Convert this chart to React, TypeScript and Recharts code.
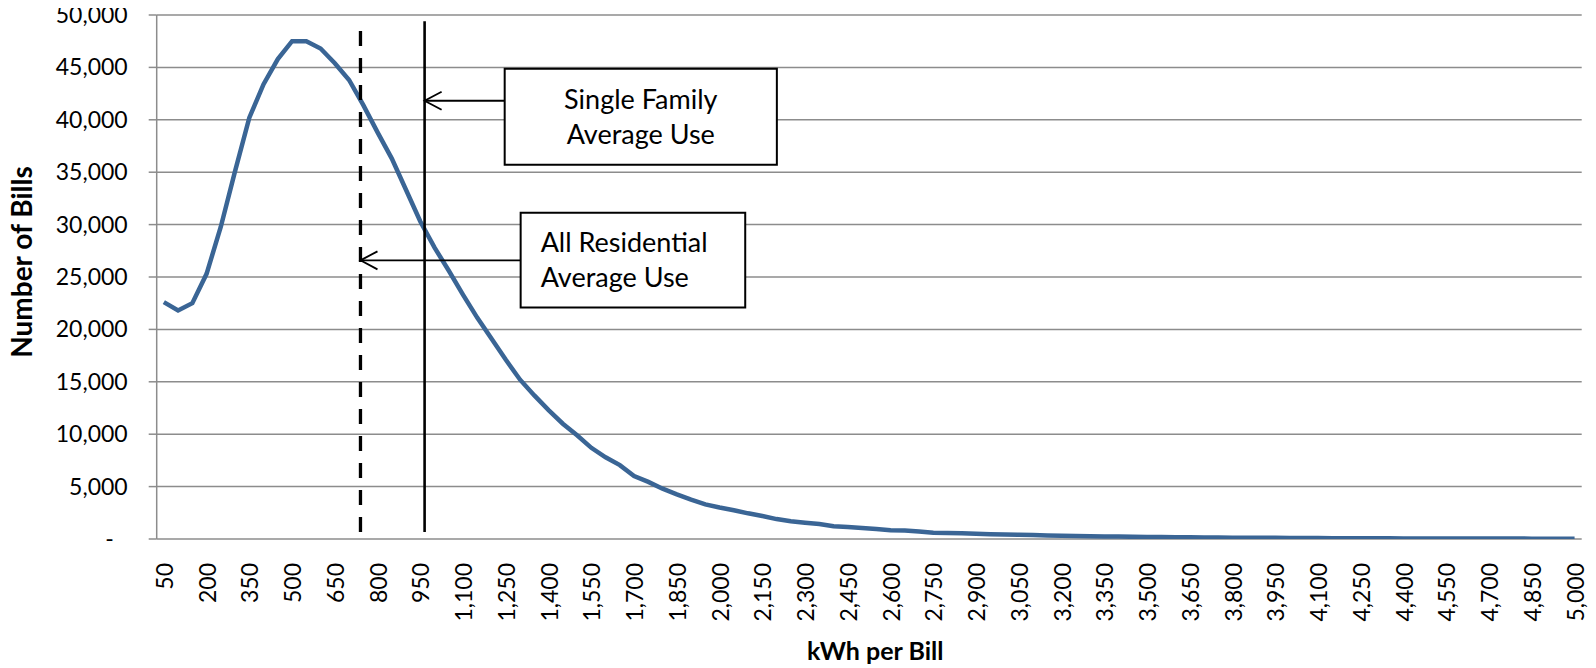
import React from "react";
import {
  LineChart,
  Line,
  XAxis,
  YAxis,
  CartesianGrid,
  ReferenceLine,
  ReferenceArea,
} from "recharts";

// ---- data ----
const kwhBins: number[] = [
  50, 100, 150, 200, 250, 300, 350, 400, 450, 500,
  550, 600, 650, 700, 750, 800, 850, 900, 950, 1000,
  1050, 1100, 1150, 1200, 1250, 1300, 1350, 1400, 1450, 1500,
  1550, 1600, 1650, 1700, 1750, 1800, 1850, 1900, 1950, 2000,
  2050, 2100, 2150, 2200, 2250, 2300, 2350, 2400, 2450, 2500,
  2550, 2600, 2650, 2700, 2750, 2800, 2850, 2900, 2950, 3000,
  3050, 3100, 3150, 3200, 3250, 3300, 3350, 3400, 3450, 3500,
  3550, 3600, 3650, 3700, 3750, 3800, 3850, 3900, 3950, 4000,
  4050, 4100, 4150, 4200, 4250, 4300, 4350, 4400, 4450, 4500,
  4550, 4600, 4650, 4700, 4750, 4800, 4850, 4900, 4950, 5000,
];

const billCounts: number[] = [
  22600, 21800, 22500, 25300, 29800, 35100, 40200, 43400, 45800, 47500,
  47500, 46800, 45400, 43800, 41400, 38800, 36300, 33300, 30300, 27800,
  25600, 23300, 21100, 19100, 17100, 15200, 13700, 12300, 11000, 9900,
  8700, 7800, 7050, 6000, 5450, 4800, 4250, 3750, 3300, 3000,
  2750, 2450, 2200, 1900, 1700, 1550, 1430, 1220, 1150, 1060,
  960, 840, 800, 710, 600, 570, 540, 510, 460, 430,
  400, 370, 340, 310, 290, 260, 250, 230, 210, 200,
  190, 170, 160, 150, 140, 130, 120, 115, 120, 105,
  95, 85, 80, 75, 70, 68, 62, 58, 55, 52,
  50, 48, 45, 42, 40, 38, 35, 33, 30, 30,
];

const yTicks: number[] = [0, 5000, 10000, 15000, 20000, 25000, 30000, 35000, 40000, 45000, 50000];
const xLabelTicks: number[] = kwhBins.filter((_, i) => i % 3 === 0);
const halfBin = (kwhBins[1] - kwhBins[0]) / 2;
const xBoundaryTicks: number[] = [...kwhBins.map((k) => k - halfBin), kwhBins[kwhBins.length - 1] + halfBin];
const xDomain: [number, number] = [xBoundaryTicks[0], xBoundaryTicks[xBoundaryTicks.length - 1]];

// annotation values (in data units)
const allResidentialAvg = 740;
const singleFamilyAvg = 965;
const markerLineBottom = 670;
const markerLineTop = 49400;
const singleFamilyArrowY = 41820;
const allResidentialArrowY = 26590;
const singleFamilyBox = { x1: 1246, x2: 2201, y1: 35720, y2: 44880, lines: ["Single Family", "Average Use"] };
const allResidentialBox = { x1: 1302, x2: 2090, y1: 22090, y2: 31140, lines: ["All Residential", "Average Use"] };

const rows = kwhBins.map((k, i) => ({ kwh: k, bills: billCounts[i] }));

// ---- style ----
const FONT = "Lato, 'Open Sans', sans-serif";
const GRID = "#8c8c8c";
const LINE = "#3A6595";

const fmt = (v: number) => v.toLocaleString("en-US");

const YTick = (props: any) => {
  const { x, y, payload } = props;
  const v = payload.value as number;
  return (
    <text
      x={v === 0 ? x - 14 : x}
      y={y}
      dy="0.35em"
      textAnchor="end"
      fontSize={23}
      fill="#000"
      fontFamily={FONT}
    >
      {v === 0 ? "-" : fmt(v)}
    </text>
  );
};

const XTick = (props: any) => {
  const { x, y, payload } = props;
  return (
    <text
      x={x}
      y={y}
      transform={`rotate(-90, ${x}, ${y})`}
      textAnchor="end"
      dominantBaseline="central"
      fontSize={23}
      fill="#000"
      fontFamily={FONT}
    >
      {fmt(payload.value)}
    </text>
  );
};

const YTitle = (props: any) => {
  const vb = props.viewBox || {};
  const x = (vb.x ?? 0) + 21;
  const y = (vb.y ?? 0) + (vb.height ?? 0) / 2 - 15;
  return (
    <text
      x={x}
      y={y}
      transform={`rotate(-90, ${x}, ${y})`}
      textAnchor="middle"
      dominantBaseline="central"
      fontSize={28}
      fontWeight="bold"
      fill="#000"
      fontFamily={FONT}
    >
      Number of Bills
    </text>
  );
};

const XTitle = (props: any) => {
  const vb = props.viewBox || {};
  const x = (vb.x ?? 0) + (vb.width ?? 0) / 2 + 6;
  const y = (vb.y ?? 0) + (vb.height ?? 0) - 18;
  return (
    <text x={x} y={y} textAnchor="middle" dominantBaseline="central" fontSize={25} fontWeight="bold" fill="#000" fontFamily={FONT}>
      kWh per Bill
    </text>
  );
};

const makeBoxLabel = (lines: string[], align: "center" | "left") => (props: any) => {
  const vb = props.viewBox || {};
  const cx = vb.x + vb.width / 2;
  const cy = vb.y + vb.height / 2;
  const lh = 35;
  const tx = align === "center" ? cx : vb.x + 20;
  return (
    <text
      textAnchor={align === "center" ? "middle" : "start"}
      fontSize={27}
      fill="#000"
      fontFamily={FONT}
    >
      {lines.map((l, i) => (
        <tspan key={i} x={tx} y={cy + (i - (lines.length - 1) / 2) * lh} dy="0.35em">
          {l}
        </tspan>
      ))}
    </text>
  );
};

const ArrowShape = (props: any) => {
  const { x1, y1, x2, y2 } = props;
  if ([x1, y1, x2, y2].some((v) => v === undefined || Number.isNaN(v))) return null;
  const head = 17;
  const spread = 9;
  return (
    <g>
      <line x1={x1} y1={y1} x2={x2} y2={y2} stroke="#000" strokeWidth={1.8} />
      <polyline
        points={`${x2 + head},${y2 - spread} ${x2},${y2} ${x2 + head},${y2 + spread}`}
        fill="none"
        stroke="#000"
        strokeWidth={1.8}
      />
    </g>
  );
};

export default function App() {
  return (
    <div style={{ width: 1596, height: 668, margin: "-8px 0 0 -8px", fontFamily: FONT }}>
      <LineChart width={1596} height={668} data={rows} margin={{ top: 15, right: 14.3, bottom: 0, left: 0 }}>
        <CartesianGrid vertical={false} stroke={GRID} strokeWidth={1.5} />
        <XAxis
          xAxisId="ticks"
          type="number"
          dataKey="kwh"
          domain={xDomain}
          ticks={xBoundaryTicks}
          interval={0}
          tick={false}
          tickSize={8}
          axisLine={{ stroke: GRID, strokeWidth: 1.5 }}
          tickLine={{ stroke: GRID, strokeWidth: 1.5 }}
          height={0}
          allowDataOverflow
        />
        <XAxis
          xAxisId="labels"
          type="number"
          dataKey="kwh"
          domain={xDomain}
          ticks={xLabelTicks}
          interval={0}
          tickLine={false}
          axisLine={false}
          tickSize={0}
          tickMargin={24}
          tick={<XTick />}
          height={129}
          allowDataOverflow
          label={<XTitle />}
        />
        <YAxis
          type="number"
          domain={[0, 50000]}
          ticks={yTicks}
          interval={0}
          width={156.7}
          tickSize={8}
          tickMargin={21}
          axisLine={{ stroke: GRID, strokeWidth: 1.5 }}
          tickLine={{ stroke: GRID, strokeWidth: 1.5 }}
          tick={<YTick />}
          label={<YTitle />}
          allowDataOverflow
        />
        <Line
          xAxisId="labels"
          type="linear"
          dataKey="bills"
          stroke={LINE}
          strokeWidth={4.5}
          dot={false}
          activeDot={false}
          isAnimationActive={false}
        />
        <ReferenceLine
          xAxisId="labels"
          segment={[
            { x: allResidentialAvg, y: markerLineBottom },
            { x: allResidentialAvg, y: markerLineTop },
          ]}
          stroke="#000"
          strokeWidth={3.3}
          strokeDasharray="15 12"
          ifOverflow="visible"
        />
        <ReferenceLine
          xAxisId="labels"
          segment={[
            { x: singleFamilyAvg, y: markerLineBottom },
            { x: singleFamilyAvg, y: markerLineTop },
          ]}
          stroke="#000"
          strokeWidth={2.6}
          ifOverflow="visible"
        />
        <ReferenceLine
          xAxisId="labels"
          segment={[
            { x: singleFamilyBox.x1, y: singleFamilyArrowY },
            { x: singleFamilyAvg, y: singleFamilyArrowY },
          ]}
          shape={<ArrowShape />}
          ifOverflow="visible"
        />
        <ReferenceLine
          xAxisId="labels"
          segment={[
            { x: allResidentialBox.x1, y: allResidentialArrowY },
            { x: allResidentialAvg, y: allResidentialArrowY },
          ]}
          shape={<ArrowShape />}
          ifOverflow="visible"
        />
        <ReferenceArea
          xAxisId="labels"
          x1={singleFamilyBox.x1}
          x2={singleFamilyBox.x2}
          y1={singleFamilyBox.y1}
          y2={singleFamilyBox.y2}
          fill="#fff"
          fillOpacity={1}
          stroke="#000"
          strokeWidth={2}
          ifOverflow="visible"
          label={makeBoxLabel(singleFamilyBox.lines, "center")}
        />
        <ReferenceArea
          xAxisId="labels"
          x1={allResidentialBox.x1}
          x2={allResidentialBox.x2}
          y1={allResidentialBox.y1}
          y2={allResidentialBox.y2}
          fill="#fff"
          fillOpacity={1}
          stroke="#000"
          strokeWidth={2}
          ifOverflow="visible"
          label={makeBoxLabel(allResidentialBox.lines, "left")}
        />
      </LineChart>
    </div>
  );
}
